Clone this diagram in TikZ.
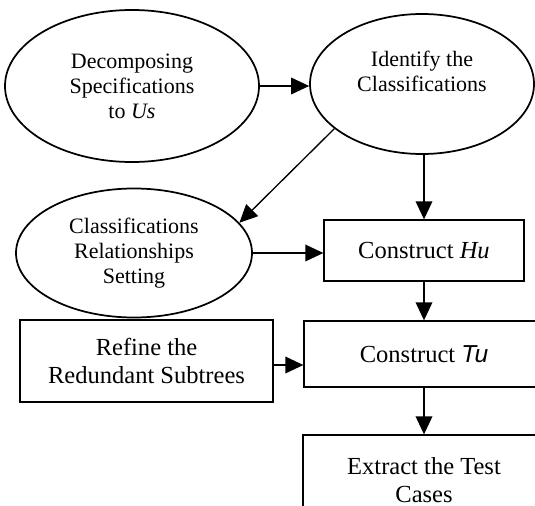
\documentclass[tikz,border=0pt]{standalone}
\usepackage{fontspec}
\setmainfont{Liberation Serif}
\newfontfamily\tusans{Liberation Sans}
\usetikzlibrary{shapes.geometric}
\usetikzlibrary{arrows.meta}

\tikzset{
  ell/.style={ellipse, draw, line width=1.3pt, inner sep=0pt, align=center,
    font=\fontsize{16.5}{18.75}\selectfont},
  blk/.style={rectangle, draw, line width=1pt, inner sep=0pt, align=center,
    font=\fontsize{18.4}{20.5}\selectfont},
  arr/.style={line width=1pt, -{Triangle[length=13.5pt,width=12.5pt]}}
}

\begin{document}
\begin{tikzpicture}[x=0.75pt,y=0.75pt,yscale=-1,xscale=1]
			\useasboundingbox (0,0) rectangle (535,506);
			\clip (0,0) rectangle (535,506);
			
			%Ellipses
			\node [ell, minimum width=190.5pt, minimum height=114pt] (decomp) at (132,86) {Decomposing\\Specifications\\to \textit{Us}};
			\node [ell, minimum width=168pt, minimum height=105pt] (ident) at (422,84) {Identify the\\Classifications\\ \mbox{}};
			\node [ell, minimum width=177pt, minimum height=96.75pt] (relset) at (134,253) {Classifications\\Relationships\\Setting};
			
			%Boxes
			\node [blk, minimum width=150pt, minimum height=45.75pt] (hu) at (424,250.5) {Construct \textit{Hu}};
			\node [blk, minimum width=189.75pt, minimum height=61.5pt] (refine) at (146.5,361) {Refine the\\Redundant Subtrees};
			\node [blk, minimum width=180pt, minimum height=49.5pt] (tu) at (424,354) {Construct {\tusans\itshape Tu}};
			\node [blk, minimum width=181.5pt, minimum height=67.5pt] (extract) at (424,480) {Extract the Test\\Cases};
			
			%Connectors
			\draw [arr] (decomp.east) -- (decomp.east -| ident.west);
			\draw [arr] (ident.207) -- (relset.16);
			\draw [arr] (ident.south -| hu.north) -- (hu.north);
			\draw [arr] (relset.east) -- (relset.east -| hu.west);
			\draw [arr] (hu.south) -- (tu.north);
			\draw [arr] ([yshift=3pt]refine.east) -- ([yshift=3pt]refine.east -| tu.west);
			\draw [arr] (tu.south) -- (extract.north);
		\end{tikzpicture}
\end{document}
